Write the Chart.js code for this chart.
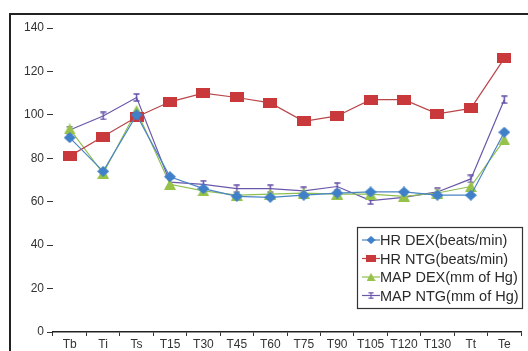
<!DOCTYPE html>
<html>
<head>
<style>
    body { margin: 0; background: #fff; font-family: 'Liberation Sans', Arial, sans-serif; }
    #wrap { position: relative; width: 528px; height: 351px; overflow: hidden; }
    #frame {
        position: absolute; left: 9px; top: 13px; right: 0; bottom: -5px;
        border-top: 2px solid #222; border-left: 2px solid #222; pointer-events: none;
    }
</style>
<script src="https://cdn.jsdelivr.net/npm/chart.js"></script>
<title>HR and MAP</title>
</head>
<body>
<div id="wrap">
    <canvas id="chart" width="528" height="351"></canvas>
    <div id="frame"></div>
</div>
<script>
    const timePoints = ['Tb', 'Ti', 'Ts', 'T15', 'T30', 'T45', 'T60', 'T75', 'T90', 'T105', 'T120', 'T130', 'Tt', 'Te'];
    const yTicks = [0, 20, 40, 60, 80, 100, 120, 140];

    const hrDex  = [89.5, 74, 100, 71.5, 66, 62.5, 62, 63, 64, 64.5, 64.5, 63, 63, 92];
    const hrNtg  = [81, 90, 99, 106, 110, 108, 105.5, 97, 99.5, 107, 107, 100.5, 103, 126];
    const mapDex = [93.5, 73, 102, 68, 65, 63, 63.5, 64, 63.5, 63.5, 62.5, 64, 67, 88.5];
    const mapNtg = [93, 99.5, 108, 69, 68, 66, 66, 65, 67, 60.5, 62, 64.5, 70.5, 107];

    const seriesNames = ['HR DEX(beats/min)', 'HR NTG(beats/min)', 'MAP DEX(mm of Hg)', 'MAP NTG(mm of Hg)'];

    // little marker images so the shapes look like the original
    function marker(w, h, draw) {
        const c = document.createElement('canvas');
        c.width = w; c.height = h;
        draw(c.getContext('2d'), w, h);
        return c;
    }
    const diamond = marker(12, 11, (g, w, h) => {
        g.fillStyle = '#3f80c8';
        g.beginPath(); g.moveTo(w / 2, 0); g.lineTo(w, h / 2); g.lineTo(w / 2, h); g.lineTo(0, h / 2); g.closePath(); g.fill();
    });
    const square = marker(14, 10, (g, w, h) => {
        g.fillStyle = '#c9383b'; g.fillRect(0, 0, w, h);
    });
    const triangle = marker(12, 11, (g, w, h) => {
        g.fillStyle = '#97c24a';
        g.beginPath(); g.moveTo(w / 2, 0); g.lineTo(w, h); g.lineTo(0, h); g.closePath(); g.fill();
    });
    const ibeam = marker(7, 9, (g, w, h) => {
        g.strokeStyle = '#6650a8'; g.lineWidth = 1.5;
        g.beginPath();
        g.moveTo(0.5, 1); g.lineTo(w - 0.5, 1);
        g.moveTo(0.5, h - 1); g.lineTo(w - 0.5, h - 1);
        g.moveTo(w / 2, 1); g.lineTo(w / 2, h - 1);
        g.stroke();
    });

    const lineColors = ['#4a84c4', '#b9474a', '#8fbf52', '#6a58aa'];
    const markers = [diamond, square, triangle, ibeam];

    function makeSet(i, values) {
        return {
            label: seriesNames[i],
            data: values,
            borderColor: lineColors[i],
            backgroundColor: lineColors[i],
            borderWidth: 1.2,
            pointStyle: markers[i],
            tension: 0,
            fill: false
        };
    }

    const boxLegend = {
        id: 'boxLegend',
        afterDraw(chart) {
            const ctx = chart.ctx;
            const x = 357, y = 227, w = 165, h = 81;
            ctx.save();
            ctx.fillStyle = '#fff';
            ctx.fillRect(x, y, w, h);
            ctx.strokeStyle = '#333';
            ctx.lineWidth = 1.2;
            ctx.strokeRect(x + 0.5, y + 0.5, w, h);
            ctx.font = '14.5px "Liberation Sans", Arial, sans-serif';
            ctx.textBaseline = 'middle';
            chart.data.datasets.forEach((ds, i) => {
                const ry = y + 13 + i * 18.5;
                ctx.strokeStyle = lineColors[i];
                ctx.lineWidth = 1.2;
                ctx.beginPath(); ctx.moveTo(x + 5, ry); ctx.lineTo(x + 23, ry); ctx.stroke();
                const m = markers[i];
                const s = 0.75;
                ctx.drawImage(m, x + 14 - m.width * s / 2, ry - m.height * s / 2, m.width * s, m.height * s);
                ctx.fillStyle = '#2a2a2a';
                ctx.fillText(ds.label, x + 23, ry + 1);
            });
            ctx.restore();
        }
    };

    new Chart(document.getElementById('chart'), {
        type: 'line',
        data: {
            labels: timePoints,
            datasets: [makeSet(0, hrDex), makeSet(1, hrNtg), makeSet(2, mapDex), makeSet(3, mapNtg)]
        },
        options: {
            responsive: false,
            animation: false,
            layout: { padding: { top: 28, right: 7, left: 0, bottom: 0 } },
            plugins: { legend: { display: false }, tooltip: { enabled: false } },
            scales: {
                x: {
                    offset: true,
                    grid: { offset: true, drawOnChartArea: false, drawTicks: true, tickLength: 4, color: '#333' },
                    border: { display: true, color: '#222', width: 1.5 },
                    ticks: { color: '#333', font: { size: 12 }, padding: 1, maxRotation: 0, autoSkip: false },
                    afterFit(scale) { scale.height = 19; }
                },
                y: {
                    min: 0,
                    max: 140,
                    afterBuildTicks(scale) { scale.ticks = yTicks.map(v => ({ value: v })); },
                    grid: { drawOnChartArea: false, drawTicks: true, tickLength: 6, color: '#333' },
                    border: { display: false },
                    ticks: { color: '#333', font: { size: 12 }, padding: 3 },
                    afterFit(scale) { scale.width = 53; }
                }
            }
        },
        plugins: [boxLegend]
    });
</script>
</body>
</html>
